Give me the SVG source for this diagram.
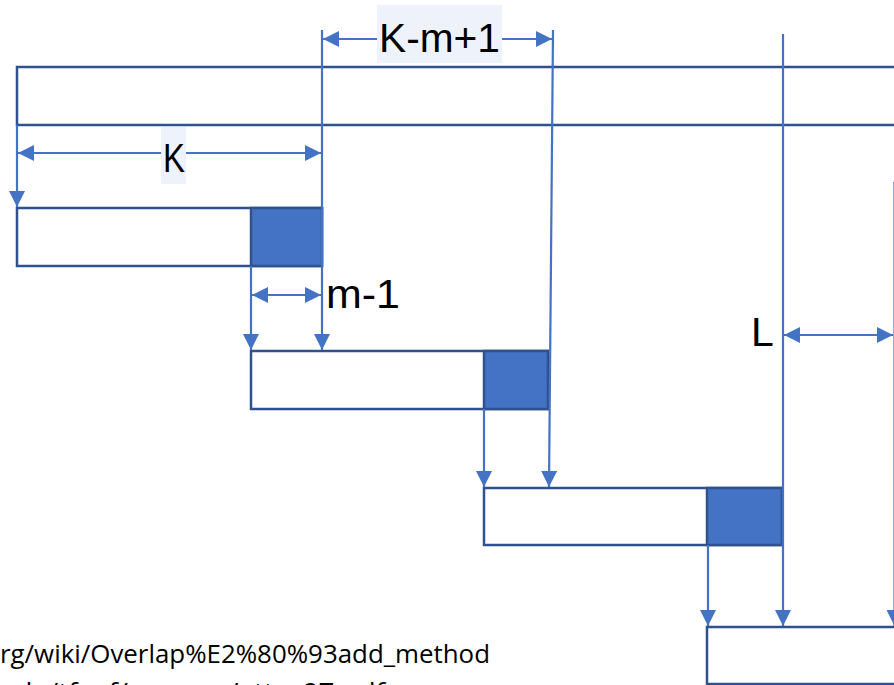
<svg xmlns="http://www.w3.org/2000/svg" width="894" height="685" viewBox="0 0 894 685">
<defs>
<style>
.box{fill:#FFFFFF;stroke:#2F528F;stroke-width:2.5}
.fillsq{fill:#4472C4;stroke:#2F528F;stroke-width:2.5}
.frame{fill:none;stroke:#2F528F;stroke-width:2.5}
.con{fill:none;stroke:#4472C4;stroke-width:2.2}
.end{marker-end:url(#ah)}
.both{marker-start:url(#ah);marker-end:url(#ah)}
.lblbg{fill:#EEF2FA}
.lbl{font-family:"Liberation Sans",Arial,sans-serif;font-size:41px;fill:#000000}
.url{font-family:"Open Sans","Liberation Sans",sans-serif;font-size:25px;fill:#000000}
</style>
<marker id="ah" markerUnits="userSpaceOnUse" markerWidth="16" markerHeight="16" refX="15" refY="7.5" orient="auto-start-reverse" viewBox="0 0 15 15">
<path d="M0,0 L15,7.5 L0,15 z" fill="#4472C4"/>
</marker>
</defs>
<rect width="894" height="685" fill="#FFFFFF"/>

<g id="frame">
<rect class="frame" x="17" y="67" width="900" height="58"/>
</g>
<g id="block1">
<rect class="box" x="17" y="208" width="305" height="58"/>
<rect class="fillsq" x="251" y="208" width="71" height="58"/>
</g>
<g id="block2">
<rect class="box" x="251" y="351" width="297" height="58"/>
<rect class="fillsq" x="484" y="351" width="64" height="58"/>
</g>
<g id="block3">
<rect class="box" x="484" y="488" width="298" height="57"/>
<rect class="fillsq" x="707" y="488" width="75" height="57"/>
</g>
<g id="block4">
<rect class="box" x="707" y="627" width="220" height="57"/>
</g>

<g id="connectors">
<line class="con end" x1="17" y1="125" x2="17" y2="207"/>
<line class="con end" x1="322" y1="30" x2="322" y2="350"/>
<line class="con end" x1="251" y1="266" x2="251" y2="350"/>
<line class="con end" x1="553" y1="30" x2="549" y2="487"/>
<line class="con end" x1="484" y1="409" x2="484" y2="487"/>
<line class="con end" x1="783" y1="34" x2="783" y2="626"/>
<line class="con end" x1="708" y1="545" x2="708" y2="626"/>
<line class="con end" x1="894.5" y1="182" x2="894.5" y2="626"/>
<line class="con both" x1="323" y1="39" x2="552" y2="39"/>
<line class="con both" x1="18" y1="153" x2="321" y2="153"/>
<line class="con both" x1="252" y1="295" x2="321" y2="295"/>
<line class="con both" x1="784" y1="335" x2="893" y2="335"/>
</g>

<g id="label-kmp1">
<rect class="lblbg" x="377" y="5" width="125" height="58"/>
<text class="lbl" x="379" y="52" textLength="121" lengthAdjust="spacingAndGlyphs">K-m+1</text>
</g>
<g id="label-k">
<rect class="lblbg" x="161" y="127" width="25" height="57"/>
<text class="lbl" x="163" y="172" textLength="22" lengthAdjust="spacingAndGlyphs">K</text>
</g>
<g id="label-m1">
<text class="lbl" x="326" y="308" textLength="74" lengthAdjust="spacingAndGlyphs">m-1</text>
</g>
<g id="label-l">
<text class="lbl" x="751" y="346">L</text>
</g>

<g id="source">
<text class="url" x="0" y="663" textLength="490" lengthAdjust="spacingAndGlyphs">rg/wiki/Overlap%E2%80%93add_method</text>
<text class="url" x="0" y="701" textLength="385" lengthAdjust="spacingAndGlyphs">ede/tfeaf/courses/attn_97.pdf</text>
</g>
</svg>
